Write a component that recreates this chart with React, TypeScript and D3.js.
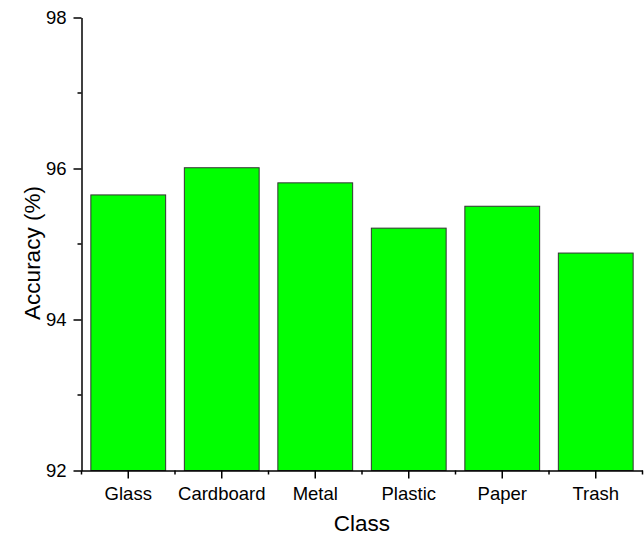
import { useEffect, useRef } from "react";
import { axisBottom, axisLeft, format, scaleBand, scaleLinear, select } from "d3";

const classes = ["Glass", "Cardboard", "Metal", "Plastic", "Paper", "Trash"];
const accuracy = [95.65, 96.01, 95.81, 95.21, 95.5, 94.88];
const yTicks = [92, 94, 96, 98];
const yMinorTicks = [93, 95, 97];

const W = 644;
const H = 537;
const margin = { top: 17.5, right: 1.5, bottom: 66.5, left: 81.5 };
const innerW = W - margin.left - margin.right;
const innerH = H - margin.top - margin.bottom;
const font = "'Liberation Sans', Arial, sans-serif";

export default function App() {
  const xRef = useRef<SVGGElement>(null);
  const xMinorRef = useRef<SVGGElement>(null);
  const yRef = useRef<SVGGElement>(null);
  const yMinorRef = useRef<SVGGElement>(null);

  const x = scaleBand().domain(classes).range([0, innerW]).paddingInner(0.2).paddingOuter(0.1);
  const y = scaleLinear().domain([92, 98]).range([innerH, 0]);

  useEffect(() => {
    if (xRef.current) {
      const g = select(xRef.current).call(
        axisBottom(x).tickSizeInner(8).tickSizeOuter(0).tickPadding(8)
      );
      g.select(".domain").attr("stroke", "#000").attr("stroke-width", 1.5);
      g.selectAll(".tick line").attr("stroke-width", 1.5);
      g.selectAll(".tick text")
        .attr("font-size", 18.5)
        .attr("font-family", font)
        .attr("fill", "#000");
    }
    if (xMinorRef.current) {
      const step = x.step();
      const bounds = classes.map((_, i) => i * step).concat([classes.length * step]);
      select(xMinorRef.current)
        .selectAll("line")
        .data(bounds)
        .join("line")
        .attr("x1", (d) => d)
        .attr("x2", (d) => d)
        .attr("y1", 0)
        .attr("y2", 4)
        .attr("stroke", "#000")
        .attr("stroke-width", 1.5);
    }
    if (yRef.current) {
      const g = select(yRef.current).call(
        axisLeft(y)
          .tickValues(yTicks)
          .tickFormat(format("d"))
          .tickSizeInner(8)
          .tickSizeOuter(0)
          .tickPadding(7)
      );
      g.select(".domain").attr("stroke", "#000").attr("stroke-width", 1.5);
      g.selectAll(".tick line").attr("stroke-width", 1.5);
      g.selectAll(".tick text")
        .attr("font-size", 18.5)
        .attr("font-family", font)
        .attr("fill", "#000");
    }
    if (yMinorRef.current) {
      select(yMinorRef.current)
        .selectAll("line")
        .data(yMinorTicks)
        .join("line")
        .attr("x1", -4)
        .attr("x2", 0)
        .attr("y1", (d) => y(d))
        .attr("y2", (d) => y(d))
        .attr("stroke", "#000")
        .attr("stroke-width", 1.5);
    }
  }, []);

  return (
    <svg width={W} height={H} style={{ position: "absolute", left: 0, top: 0 }}>
      <rect width={W} height={H} fill="#fff" />
      <g transform={`translate(${margin.left}, ${margin.top})`}>
        {classes.map((c, i) => (
          <rect
            key={c}
            x={x(c)}
            y={y(accuracy[i])}
            width={x.bandwidth()}
            height={innerH - y(accuracy[i])}
            fill="#00ff00"
            stroke="#333"
            strokeWidth={1}
          />
        ))}
        <g ref={xRef} transform={`translate(0, ${innerH})`} />
        <g ref={xMinorRef} transform={`translate(0, ${innerH})`} />
        <g ref={yRef} />
        <g ref={yMinorRef} />
      </g>
      <text
        x={margin.left + innerW / 2}
        y={531}
        textAnchor="middle"
        fontSize={22.5}
        fontFamily={font}
      >
        Class
      </text>
      <text
        transform={`translate(40, 253) rotate(-90)`}
        textAnchor="middle"
        fontSize={22.5}
        fontFamily={font}
      >
        Accuracy (%)
      </text>
    </svg>
  );
}
